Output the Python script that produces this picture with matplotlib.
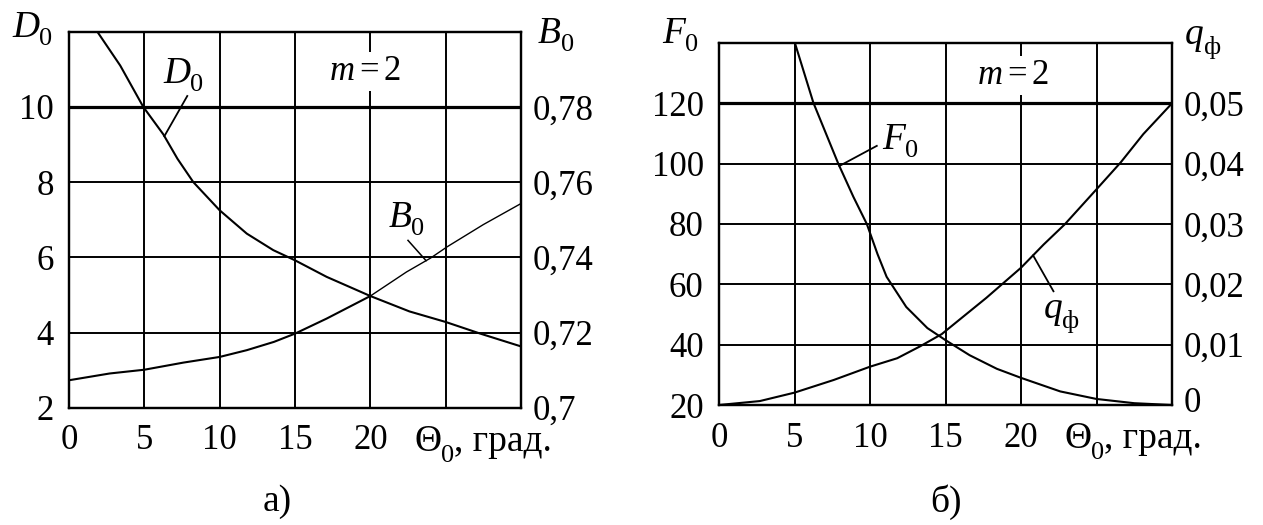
import numpy as np
import matplotlib.pyplot as plt
import matplotlib.transforms as mtransforms

plt.rcParams['font.family'] = 'Liberation Serif'
plt.rcParams['mathtext.fontset'] = 'custom'
plt.rcParams['mathtext.rm'] = 'Liberation Serif'
plt.rcParams['mathtext.it'] = 'Liberation Serif:italic'
plt.rcParams['font.size'] = 25

# --- а) D0 и B0 при m = 2 ---
theta_d = [1.88, 3.4, 4.93, 6.26, 7.2, 8.25, 10.0, 11.8, 13.56, 15.0, 17.1, 20.0, 22.6, 25.0, 27.3, 30.0]
d0 = [12.0, 11.1, 10.0, 9.27, 8.62, 8.0, 7.25, 6.63, 6.19, 5.92, 5.48, 4.97, 4.56, 4.28, 3.97, 3.63]

theta_b = [0, 2.7, 5, 7.6, 10, 11.8, 13.6, 15, 17.1, 20, 22.4, 24, 25.1, 27.5, 30]
b0 = [0.7073, 0.7091, 0.7101, 0.712, 0.7135, 0.7153, 0.7175, 0.7197, 0.7237,
      0.7297, 0.7361, 0.7398, 0.7428, 0.7487, 0.7543]

# --- б) F0 и qф при m = 2 ---
theta_f = [5.04, 6.25, 7.9, 8.9, 9.79, 10.5, 11.1, 12.4, 13.8, 15.0, 16.6, 18.4, 20.0,
           22.6, 25.0, 27.5, 30.0]
f0 = [139.8, 120.2, 100, 89, 80, 70, 62.5, 52.5, 45.5, 41.5, 36.5, 32, 29, 24.5, 22.0, 20.6, 20]

theta_q = [0, 2.7, 5, 7.6, 10, 11.8, 13.3, 14.75, 16.2, 17.7, 20, 21.5, 22.9, 25, 26.6, 28.1, 30]
q_f = [0, 0.00065, 0.00205, 0.00415, 0.00635, 0.00775, 0.0097, 0.01175, 0.0147,
       0.01775, 0.02275, 0.0266, 0.02995, 0.03575, 0.0402, 0.0449, 0.0500]

# шкалы
x_ticks = [0, 5, 10, 15, 20, 25, 30]
x_labels = ['0', '5', '10', '15', '20', '', '']
d_ticks = [2, 4, 6, 8, 10, 12]
d_labels = ['2', '4', '6', '8', '10', '']
b_ticks = [0.70, 0.72, 0.74, 0.76, 0.78, 0.80]
b_labels = ['0,7', '0,72', '0,74', '0,76', '0,78', '']
f_ticks = [20, 40, 60, 80, 100, 120, 140]
f_labels = ['20', '40', '60', '80', '100', '120', '']
q_ticks = [0, 0.01, 0.02, 0.03, 0.04, 0.05, 0.06]
q_labels = ['0', '0,01', '0,02', '0,03', '0,04', '0,05', '']

W, H = 1263, 525
fig = plt.figure(figsize=(W / 100, H / 100), dpi=100)
renderer = fig.canvas.get_renderer()

BIG, SMALL = 27, 19


def px(x, y):
    return x / W, 1 - y / H


def compose(x, y, pieces, transform):
    """Пишет подряд куски текста (текст, размер, начертание, опускание в px)."""
    dx = 0
    for s, size, style, drop in pieces:
        tr = mtransforms.offset_copy(transform, fig=fig, x=dx, y=-drop, units='dots')
        t = fig.text(x, y, s, transform=tr, fontsize=size, style=style,
                     ha='left', va='baseline')
        dx += t.get_window_extent(renderer).width


def sym(x, y, main, sub, transform, drop=8):
    compose(x, y, [(main, BIG, 'italic', 0), (sub, SMALL, 'normal', drop)], transform)


def setup(ax, ax2, yticks, ylabels, y2ticks, y2labels, heavy):
    ax.set_xlim(0, 30)
    ax.set_xticks(x_ticks)
    ax.set_xticklabels(x_labels)
    ax.set_yticks(yticks)
    ax.set_yticklabels(ylabels)
    ax.set_ylim(yticks[0], yticks[-1])
    ax2.set_ylim(y2ticks[0], y2ticks[-1])
    ax2.set_yticks(y2ticks)
    ax2.set_yticklabels(y2labels)
    ax.grid(True, color='black', lw=1.4)
    ax.axhline(heavy, color='black', lw=2.3, zorder=1)
    ax.tick_params(axis='x', length=0, pad=12)
    ax.tick_params(axis='y', length=0, pad=11)
    ax2.tick_params(axis='y', length=0, pad=8.5)
    for a in (ax, ax2):
        for s in a.spines.values():
            s.set_linewidth(1.6)


# ----- левый график -----
ax = fig.add_axes([69 / W, 1 - 407.7 / H, 452 / W, 376 / H])
axb = ax.twinx()
setup(ax, axb, d_ticks, d_labels, b_ticks, b_labels, 10)

ax.plot(theta_d, d0, color='black', lw=1.5)
tb = np.array(theta_b)
bb = np.array(b0)
axb.plot(tb[tb <= 20], bb[tb <= 20], color='black', lw=1.5)
axb.plot(tb[tb >= 20], bb[tb >= 20], color='black', lw=1.0)

sym(6.24, 10.63, 'D', '0', ax.transData)
ax.plot([7.85, 6.33], [10.29, np.interp(6.33, theta_d, d0)], color='black', lw=1.3)
sym(21.19, 0.7481, 'B', '0', axb.transData)
axb.plot([22.5, 23.7], [0.7445, np.interp(23.7, theta_b, b0)], color='black', lw=1.1)
ax.text(19.65, 10.94, r'$m=2$', ha='center', va='center', zorder=5,
        bbox=dict(facecolor='white', edgecolor='none', pad=2))

sym(*px(12, 37), 'D', '0', fig.transFigure)
sym(*px(538, 43), 'B', '0', fig.transFigure)
compose(*px(414, 451), [('Θ', BIG, 'normal', 0), ('0', SMALL, 'normal', 11),
                        (', град.', BIG, 'normal', 0)], fig.transFigure)
fig.text(*px(277, 502), 'а)', ha='center', va='center', fontsize=BIG)

# ----- правый график -----
ax = fig.add_axes([719 / W, 1 - 405 / H, 453 / W, 362 / H])
axq = ax.twinx()
setup(ax, axq, f_ticks, f_labels, q_ticks, q_labels, 120)

# нижнюю подпись правой шкалы чуть приподнять над подписью оси
zero_lbl = axq.get_yticklabels()[0]
zero_lbl.set_transform(zero_lbl.get_transform()
                       + mtransforms.ScaledTranslation(0, 5 / 100, fig.dpi_scale_trans))

ax.plot(theta_f, f0, color='black', lw=1.5)
axq.plot(theta_q, q_f, color='black', lw=1.5)

sym(10.78, 104.8, 'F', '0', ax.transData)
ax.plot([10.45, 7.97], [105.9, np.interp(7.97, theta_f, f0)], color='black', lw=1.3)
sym(21.5, 0.0144, 'q', 'ф', axq.transData, drop=10)
axq.plot([22.15, 20.8], [0.01885, np.interp(20.8, theta_q, q_f)], color='black', lw=1.3)
ax.text(19.5, 129.2, r'$m=2$', ha='center', va='center', zorder=5,
        bbox=dict(facecolor='white', edgecolor='none', pad=2))

sym(*px(662, 43), 'F', '0', fig.transFigure)
sym(*px(1185, 44), 'q', 'ф', fig.transFigure, drop=10)
compose(*px(1064, 448), [('Θ', BIG, 'normal', 0), ('0', SMALL, 'normal', 11),
                         (', град.', BIG, 'normal', 0)], fig.transFigure)
fig.text(*px(946, 502), 'б)', ha='center', va='center', fontsize=BIG)

fig.savefig('out.png', dpi=100)
